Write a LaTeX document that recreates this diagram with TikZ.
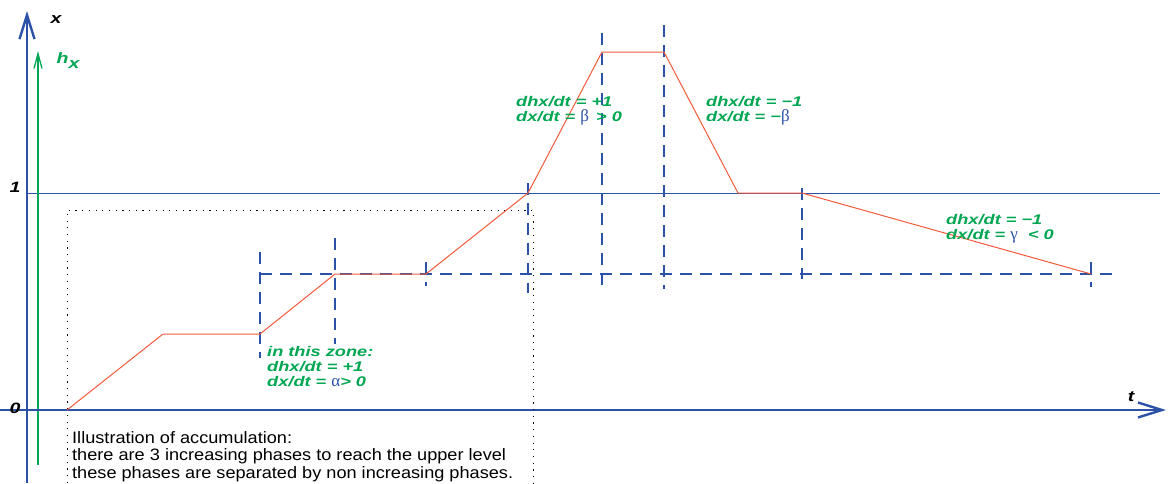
\documentclass[tikz,border=0pt]{standalone}
\usepackage{fontspec}
\setmainfont{Liberation Sans}
\newfontfamily\lblfont[FakeStretch=1.3]{Liberation Sans}
\newfontfamily\notefont[FakeStretch=1.1]{Liberation Sans}
\newfontfamily\greekfont{Liberation Serif}
\usetikzlibrary{arrows.meta}
\definecolor{axisblue}{HTML}{2B52A6}
\definecolor{hgreen}{HTML}{00A651}
\definecolor{curvered}{HTML}{F05A3C}
\newcommand{\gk}[1]{\textcolor{axisblue}{\greekfont\mdseries\upshape\fontsize{17}{15}\selectfont #1}}

\begin{document}
\begin{tikzpicture}[x=1pt, y=-1pt,
  axis/.style={draw=axisblue, line width=2.4pt, -{Straight Barb[length=24pt, width=15pt]}},
  haxis/.style={draw=hgreen, line width=1.3pt, -{Straight Barb[length=15pt, width=8pt]}},
  level/.style={draw=axisblue, line width=0.9pt},
  curve/.style={draw=curvered, line width=1pt},
  guide/.style={draw=axisblue, line width=2.4pt, dash pattern=on 12pt off 8pt},
  frame/.style={draw=black, line width=1pt, dash pattern=on 1.2pt off 5.5pt},
  lbl/.style={font=\lblfont\fontsize{14}{15}\selectfont\bfseries\itshape, text=hgreen, align=left, anchor=north west, inner sep=0pt},
  axlbl/.style={font=\lblfont\fontsize{15}{15}\selectfont\bfseries\itshape, inner sep=0pt}]
  \useasboundingbox (0,0) rectangle (1172,483);

  % axes
  \coordinate (xbot) at (27,483);
  \coordinate (xtop) at (27,11);
  \coordinate (hbot) at (38,465);
  \coordinate (htop) at (38,51);
  \coordinate (tleft) at (0,410);
  \coordinate (tright) at (1166,410);
  \coordinate (oneleft) at (27,193);
  \coordinate (oneright) at (1160,193);
  \draw[level] (oneleft) -- (oneright);
  \draw[haxis] (hbot) -- (htop);
  \draw[axis] (xbot) -- (xtop);
  \draw[axis] (tleft) -- (tright);
  \node[axlbl] (xname) at (56,20) {x};
  \node[axlbl, text=hgreen] (hname) at (68,61) {h\raisebox{-5pt}{x}};
  \node[axlbl] (tname) at (1131,397) {t};
  \node[axlbl] (zero) at (15,408) {0};
  \node[axlbl] (one) at (15,187) {1};

  % dotted frame
  \coordinate (fa) at (67,483);
  \coordinate (fb) at (67,210);
  \coordinate (fc) at (533,210);
  \coordinate (fd) at (533,483);
  \draw[frame] (fa) -- (fb) -- (fc) -- (fd);

  % dashed guides
  \coordinate (gl) at (260,274);
  \coordinate (gr) at (1116,274);
  \draw[guide] (gl) -- (gr);
  \foreach \gx/\gtop/\gbot in {260/252/358, 335/238/344, 426/262/286, 528/183/293,
      602/33/288, 664/25/289, 802/188/279, 1091/262/287}
    \draw[guide] (\gx,\gtop) -- (\gx,\gbot);

  % x(t)
  \coordinate (p0) at (67,410);
  \coordinate (p1) at (163,334);
  \coordinate (p2) at (260,334);
  \coordinate (p3) at (335,274);
  \coordinate (p4) at (426,274);
  \coordinate (p5) at (528,193);
  \coordinate (p6) at (602,52);
  \coordinate (p7) at (664,52);
  \coordinate (p8) at (738,193);
  \coordinate (p9) at (802,193);
  \coordinate (p10) at (1091,274);
  \draw[curve] (p0) -- (p1) -- (p2) -- (p3) -- (p4) -- (p5) -- (p6) -- (p7) -- (p8) -- (p9) -- (p10);

  % slopes
  \node[lbl] (zone) at (267,346) {in this zone:\\ dhx/dt = +1\\ dx/dt = \gk{α}> 0};
  \node[lbl] (rise) at (516,96) {dhx/dt = +1\\ dx/dt = \gk{β} \hspace{2pt}> 0};
  \node[lbl] (fall) at (706,96) {dhx/dt = −1\\ dx/dt = −\gk{β}};
  \node[lbl] (decay) at (946,214) {dhx/dt = −1\\ dx/dt = \gk{γ} \ < 0};

  \node[font=\notefont\fontsize{16.5}{17.5}\selectfont, align=left, anchor=north west, inner sep=0pt] (note) at (72,431)
    {Illustration of accumulation:\\ there are 3 increasing phases to reach the upper level\\ these phases are separated by non increasing phases.};
\end{tikzpicture}
\end{document}
